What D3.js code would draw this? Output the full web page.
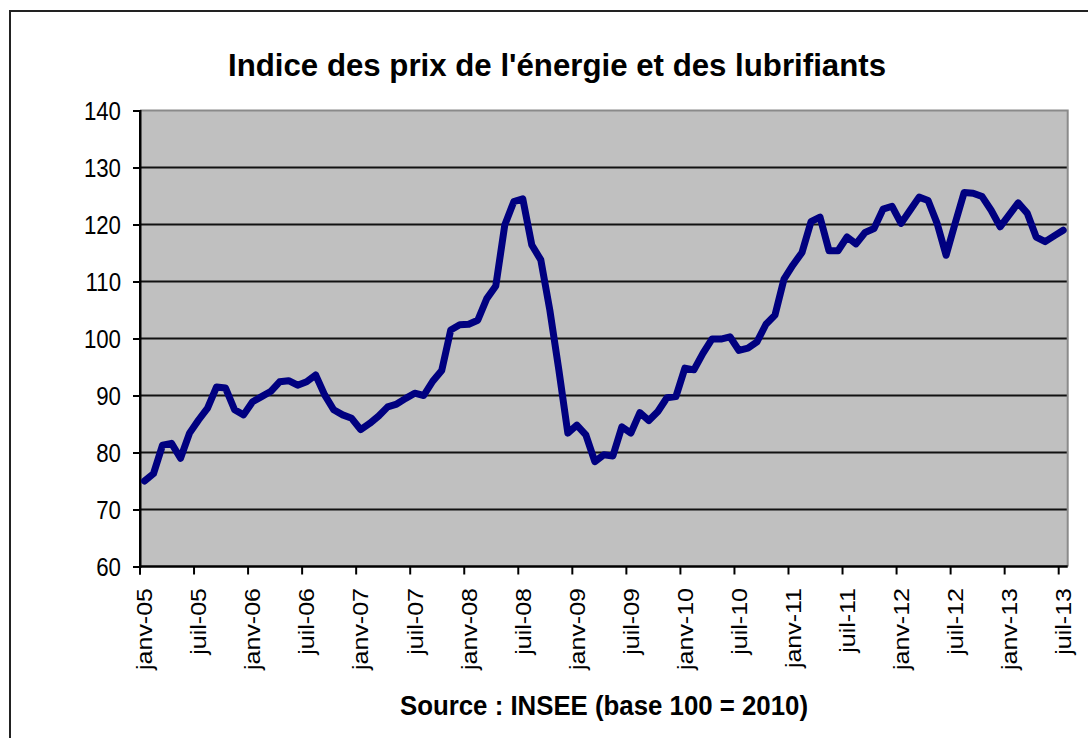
<!DOCTYPE html>
<html>
<head>
<meta charset="utf-8">
<script src="https://cdn.jsdelivr.net/npm/d3@7"></script>
<style>
  html, body { margin: 0; padding: 0; background: #fff; }
  svg { display: block; font-family: "Liberation Sans", Arial, sans-serif; }
</style>
</head>
<body>
<svg id="chart" width="1088" height="738"></svg>
<script>
// ---- data ----
const monthAbbr = ["janv", "févr", "mars", "avr", "mai", "juin", "juil", "août", "sept", "oct", "nov", "déc"];
const years = ["05", "06", "07", "08", "09", "10", "11", "12", "13"];
const tickLabels = ["janv-05", "juil-05", "janv-06", "juil-06", "janv-07", "juil-07", "janv-08", "juil-08",
  "janv-09", "juil-09", "janv-10", "juil-10", "janv-11", "juil-11", "janv-12", "juil-12", "janv-13", "juil-13"];
const yTicks = [60, 70, 80, 90, 100, 110, 120, 130, 140];
const values = [
  75, 76.3, 81.3, 81.6, 79, 83.4, 85.7, 87.8, 91.5, 91.3, 87.5, 86.6,
  88.9, 89.8, 90.7, 92.4, 92.6, 91.8, 92.4, 93.6, 90.1, 87.5, 86.6, 86,
  84, 85.1, 86.4, 88, 88.5, 89.5, 90.4, 90, 92.5, 94.4, 101.5, 102.4,
  102.5, 103.2, 107, 109.2, 119.9, 124, 124.5, 116.4, 113.8, 105, 94.5, 83.4,
  84.8, 83.1, 78.4, 79.6, 79.4, 84.5, 83.4, 87, 85.6, 87.2, 89.6, 89.8,
  94.8, 94.5, 97.4, 99.9, 99.9, 100.3, 97.9, 98.3, 99.4, 102.5, 104.1, 110.4,
  112.9, 115.1, 120.5, 121.3, 115.4, 115.4, 117.8, 116.6, 118.6, 119.3, 122.7, 123.2,
  120.2, 122.5, 124.8, 124.2, 120.2, 114.6, 120.2, 125.6, 125.5, 124.9, 122.5, 119.6,
  121.7, 123.8, 122, 117.8, 117, 118, 119
];
const categories = [];
years.forEach(y => monthAbbr.forEach(m => categories.push(m + "-" + y)));
categories.length = values.length; // janv-05 .. juil-13

const titleText = "Indice des prix de l'énergie et des lubrifiants";
const sourceText = "Source : INSEE (base 100 = 2010)";

// ---- layout ----
const svg = d3.select("#chart");
const plot = { left: 140, right: 1067.7, top: 110.5, bottom: 566.5 };
const sx = 0.89; // horizontal squeeze of the reference text

const x = d3.scaleBand().domain(categories).range([plot.left, plot.right]).paddingInner(0).paddingOuter(0);
const y = d3.scaleLinear().domain([60, 140]).range([plot.bottom, plot.top]);

// outer frame
svg.append("rect").attr("x", 10).attr("y", 11).attr("width", 1100).attr("height", 800)
  .attr("fill", "none").attr("stroke", "#222").attr("stroke-width", 2);

// plot background
svg.append("rect").attr("x", plot.left).attr("y", plot.top)
  .attr("width", plot.right - plot.left).attr("height", plot.bottom - plot.top)
  .attr("fill", "#c0c0c0");

// gridlines
svg.append("g").selectAll("line").data(yTicks.filter(v => v > 60 && v < 140)).join("line")
  .attr("x1", plot.left).attr("x2", plot.right)
  .attr("y1", d => y(d)).attr("y2", d => y(d))
  .attr("stroke", "#111").attr("stroke-width", 2);

// top & right border (gray)
svg.append("path")
  .attr("d", `M${plot.left},${y(140)}H${plot.right}V${plot.bottom}`)
  .attr("fill", "none").attr("stroke", "#8a8a8a").attr("stroke-width", 2);

// y axis
const yAxis = svg.append("g").attr("transform", `translate(${plot.left},0)`)
  .call(d3.axisLeft(y).tickValues(yTicks).tickSize(7).tickFormat(d3.format("d")));
yAxis.select(".domain").attr("stroke", "#000").attr("stroke-width", 2);
yAxis.selectAll(".tick line").attr("stroke", "#000").attr("stroke-width", 2);
yAxis.selectAll(".tick text")
  .attr("x", -19 / sx).attr("dy", "0.36em")
  .attr("transform", `scale(${sx},1)`)
  .attr("font-size", 25).attr("fill", "#000")
  .attr("font-family", "'Liberation Sans', Arial, sans-serif");

// x axis (ticks at category boundaries, labels centered in category)
const xg = svg.append("g");
xg.append("line").attr("x1", plot.left - 1).attr("x2", plot.right)
  .attr("y1", plot.bottom).attr("y2", plot.bottom)
  .attr("stroke", "#000").attr("stroke-width", 2.5);
xg.selectAll("line.tick").data(tickLabels).join("line").attr("class", "tick")
  .attr("x1", d => x(d)).attr("x2", d => x(d))
  .attr("y1", plot.bottom).attr("y2", plot.bottom + 8)
  .attr("stroke", "#000").attr("stroke-width", 2);
xg.selectAll("text").data(tickLabels).join("text")
  .attr("transform", d => `translate(${x(d) + x.bandwidth() / 2},588) scale(${sx},1) rotate(-90)`)
  .attr("text-anchor", "end").attr("dy", "0.35em")
  .attr("font-size", 25).attr("fill", "#000")
  .text(d => d);

// line
const line = d3.line()
  .x((d, i) => x(categories[i]) + x.bandwidth() / 2)
  .y(d => y(d));
svg.append("path").datum(values)
  .attr("d", line)
  .attr("fill", "none").attr("stroke", "#000080").attr("stroke-width", 7)
  .attr("stroke-linejoin", "round").attr("stroke-linecap", "round");

// left axis over the line start
svg.append("line").attr("x1", plot.left).attr("x2", plot.left)
  .attr("y1", plot.top).attr("y2", plot.bottom + 8)
  .attr("stroke", "#000").attr("stroke-width", 2);

// title
svg.append("text").attr("x", 557).attr("y", 76)
  .attr("text-anchor", "middle").attr("font-size", 32).attr("font-weight", "bold")
  .attr("textLength", 658).attr("lengthAdjust", "spacingAndGlyphs")
  .attr("fill", "#000").text(titleText);

// source
svg.append("text").attr("x", 604).attr("y", 715)
  .attr("text-anchor", "middle").attr("font-size", 28).attr("font-weight", "bold")
  .attr("textLength", 408).attr("lengthAdjust", "spacingAndGlyphs")
  .attr("fill", "#000").text(sourceText);
</script>
</body>
</html>
